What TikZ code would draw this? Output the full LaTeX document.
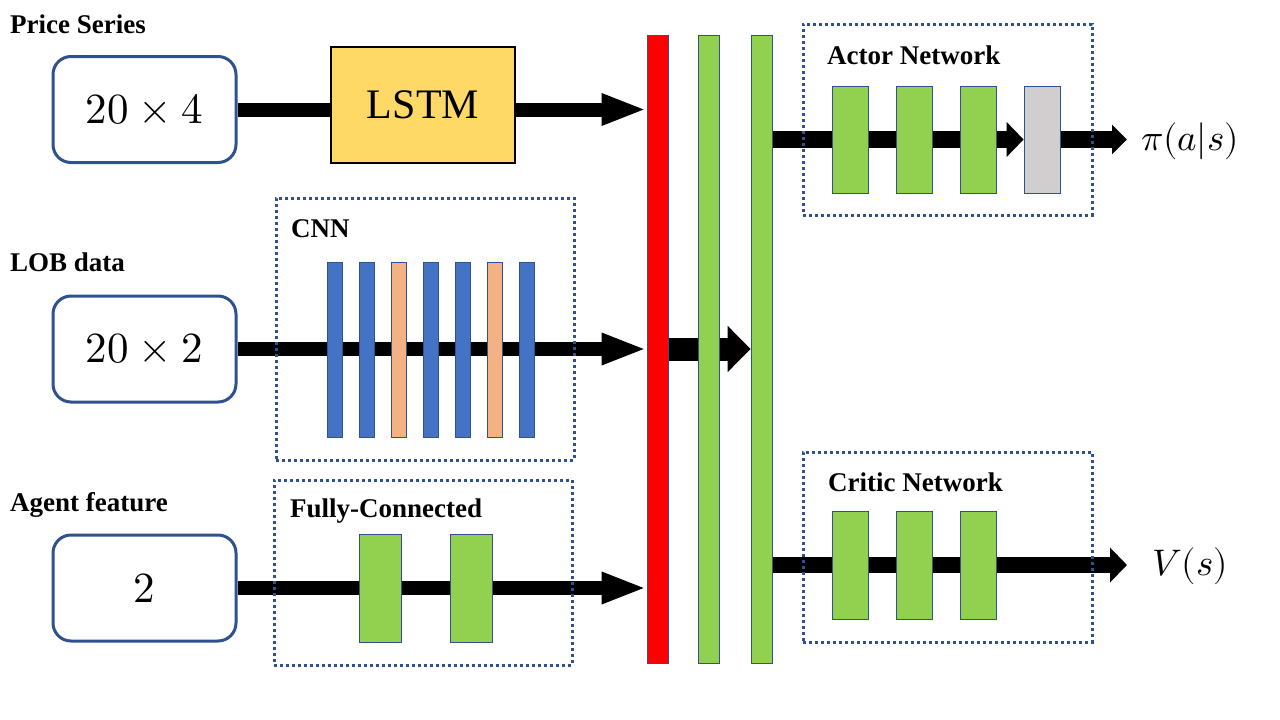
\documentclass[tikz,border=0pt]{standalone}
\usepackage{fontspec}
\usepackage{unicode-math}
\setmainfont{Liberation Serif}
\setmathfont{Latin Modern Math}
\usetikzlibrary{arrows.meta,backgrounds}
\definecolor{bord}{HTML}{2F528F}
\definecolor{cblue}{HTML}{4472C4}
\definecolor{corange}{HTML}{F4B183}
\definecolor{cgreen}{HTML}{92D050}
\definecolor{cgray}{HTML}{D0CECE}
\definecolor{cyellow}{HTML}{FFD966}
\tikzset{
  inbox/.style={draw=bord, line width=3pt, rounded corners=18pt, minimum width=183pt, minimum height=106pt, inner sep=0pt, font=\fontsize{43}{50}\selectfont},
  bar/.style={draw=bord, line width=0.8pt, inner sep=0pt},
  grp/.style={draw=bord, line width=3pt, dash pattern=on 3pt off 3pt, inner sep=0pt},
  lbl/.style={anchor=base west, inner sep=0pt, font=\fontsize{27}{30}\selectfont\bfseries},
  outm/.style={inner sep=0pt, font=\fontsize{37}{42}\selectfont},
  fatarrow/.style={line width=14pt, -{Triangle[length=45pt,width=29pt]}},
}
\begin{document}
\begin{tikzpicture}[x=1pt,y=-1pt]
\useasboundingbox (0,0) rectangle (1280,720);
% labels
\node[lbl] (l1) at (10,33) {Price Series};
\node[lbl] (l2) at (10,271) {LOB data};
\node[lbl] (l3) at (10,511) {Agent feature};
% inputs
\node[inbox] (in1) at (144.5,109.5) {$20\times4$};
\node[inbox] (in2) at (144.5,349) {$20\times2$};
\node[inbox] (in3) at (144.5,588) {$2$};
% LSTM
\node[draw=black, fill=cyellow, line width=2pt, minimum width=184pt, minimum height=116pt, inner sep=0pt, font=\fontsize{42}{48}\selectfont] (lstm) at (423,105) {LSTM};
% merge bars
\node[bar, fill=red, minimum width=21pt, minimum height=628pt] (rb) at (657.5,349) {};
\node[bar, fill=cgreen, minimum width=21pt, minimum height=628pt] (g1) at (708.5,349) {};
\node[bar, fill=cgreen, minimum width=21pt, minimum height=628pt] (g2) at (761.5,349) {};
% CNN bars
\foreach \n/\x/\c in {c1/334.5/cblue,c2/366.5/cblue,c3/398.5/corange,c4/430.5/cblue,c5/462.5/cblue,c6/494.5/corange,c7/526.5/cblue}{
  \node[bar, fill=\c, minimum width=15pt, minimum height=175pt] (\n) at (\x,349.5) {};
}
% FC bars
\node[bar, fill=cgreen, minimum width=42pt, minimum height=108pt] (f1) at (380,588) {};
\node[bar, fill=cgreen, minimum width=42pt, minimum height=108pt] (f2) at (471,588) {};
% actor bars
\node[bar, fill=cgreen, minimum width=36pt, minimum height=107pt] (a1) at (850,139.5) {};
\node[bar, fill=cgreen, minimum width=36pt, minimum height=107pt] (a2) at (914,139.5) {};
\node[bar, fill=cgreen, minimum width=36pt, minimum height=107pt] (a3) at (978,139.5) {};
\node[bar, fill=cgray, minimum width=36pt, minimum height=107pt] (a4) at (1042,139.5) {};
% critic bars
\node[bar, fill=cgreen, minimum width=36pt, minimum height=108pt] (k1) at (850,565) {};
\node[bar, fill=cgreen, minimum width=36pt, minimum height=108pt] (k2) at (914,565) {};
\node[bar, fill=cgreen, minimum width=36pt, minimum height=108pt] (k3) at (978,565) {};
% outputs
\node[outm] (pi) at (1190,141) {$\pi(a|s)$};
\node[outm] (vs) at (1190,566) {$V(s)$};
\coordinate (aend) at (1127,139.5);
\coordinate (kend) at (1127,565);
% group boxes
\node[grp, minimum width=298pt, minimum height=262pt] (cnn) at (425,329) {};
\node[grp, minimum width=298pt, minimum height=185pt] (fc) at (423,572.5) {};
\node[grp, minimum width=289pt, minimum height=191pt] (actor) at (947.5,119.5) {};
\node[grp, minimum width=289pt, minimum height=190pt] (critic) at (947.5,547) {};
\node[lbl] (lc) at (291,237) {CNN};
\node[lbl] (lf) at (290,517) {Fully-Connected};
\node[lbl] (la) at (827,64) {Actor Network};
\node[lbl] (lk) at (828,491) {Critic Network};
% arrows
\begin{scope}[on background layer]
\draw[fatarrow] (in1.east) -- (in1.east -| rb.west);
\draw[fatarrow] (in2.east) -- (in2.east -| rb.west);
\draw[fatarrow] (in3.east) -- (in3.east -| rb.west);
\draw[line width=23pt, -{Triangle[length=23pt,width=45pt]}] (rb.east) -- (rb.east -| g2.west);
\draw[line width=17pt, -{Triangle[length=17pt,width=34pt]}] (g2.east |- a1.center) -- (a4.west);
\draw[line width=17pt, -{Triangle[length=15pt,width=29pt]}] (a4.east) -- (aend);
\draw[line width=16pt, -{Triangle[length=17pt,width=34pt]}] (g2.east |- k1.center) -- (kend);
\end{scope}
\end{tikzpicture}
\end{document}
